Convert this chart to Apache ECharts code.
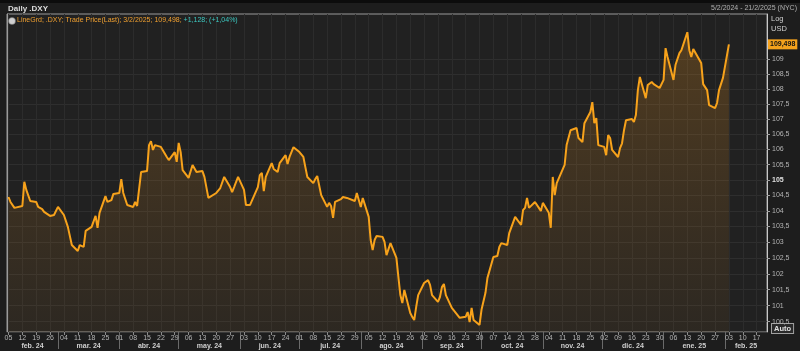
<!DOCTYPE html>
<html><head><meta charset="utf-8">
<script src="https://cdn.jsdelivr.net/npm/echarts@6/dist/echarts.min.js"></script>
<style>html,body{margin:0;padding:0;background:#1d1d1d;}#c{width:800px;height:351px;}</style>
</head><body><div id="c"></div>
<script>
const dates = [
'2024-02-05','2024-02-06','2024-02-08','2024-02-09','2024-02-12','2024-02-13','2024-02-14','2024-02-16','2024-02-19','2024-02-20','2024-02-22','2024-02-23','2024-02-26','2024-02-28',
'2024-03-01','2024-03-04','2024-03-05','2024-03-06','2024-03-08','2024-03-11','2024-03-12','2024-03-13','2024-03-14','2024-03-15','2024-03-18','2024-03-20','2024-03-21','2024-03-22','2024-03-25','2024-03-26','2024-03-28','2024-03-29',
'2024-04-01','2024-04-02','2024-04-03','2024-04-05','2024-04-08','2024-04-09','2024-04-10','2024-04-11','2024-04-12','2024-04-15','2024-04-16','2024-04-17','2024-04-18','2024-04-19','2024-04-22','2024-04-23','2024-04-25','2024-04-26','2024-04-29','2024-04-30',
'2024-05-01','2024-05-02','2024-05-03','2024-05-06','2024-05-07','2024-05-08','2024-05-09','2024-05-10','2024-05-13','2024-05-14','2024-05-16','2024-05-17','2024-05-20','2024-05-22','2024-05-24','2024-05-27','2024-05-28','2024-05-29','2024-05-31',
'2024-06-03','2024-06-04','2024-06-05','2024-06-06','2024-06-07','2024-06-10','2024-06-11','2024-06-12','2024-06-13','2024-06-14','2024-06-17','2024-06-18','2024-06-20','2024-06-21','2024-06-24','2024-06-25','2024-06-26','2024-06-28',
'2024-07-01','2024-07-02','2024-07-03','2024-07-04','2024-07-05','2024-07-08','2024-07-09','2024-07-10','2024-07-12','2024-07-15','2024-07-16','2024-07-17','2024-07-18','2024-07-19','2024-07-22','2024-07-23','2024-07-25','2024-07-29','2024-07-30','2024-07-31',
'2024-08-01','2024-08-02','2024-08-05','2024-08-06','2024-08-07','2024-08-08','2024-08-09','2024-08-12','2024-08-13','2024-08-14','2024-08-15','2024-08-16','2024-08-19','2024-08-20','2024-08-21','2024-08-22','2024-08-23','2024-08-26','2024-08-27','2024-08-28','2024-08-29','2024-08-30',
'2024-09-02','2024-09-04','2024-09-05','2024-09-06','2024-09-09','2024-09-10','2024-09-11','2024-09-12','2024-09-13','2024-09-16','2024-09-17','2024-09-20','2024-09-23','2024-09-24','2024-09-25','2024-09-26','2024-09-27','2024-09-30',
'2024-10-01','2024-10-03','2024-10-04','2024-10-07','2024-10-09','2024-10-10','2024-10-11','2024-10-14','2024-10-15','2024-10-16','2024-10-18','2024-10-21','2024-10-22','2024-10-23','2024-10-24','2024-10-25','2024-10-28','2024-10-29','2024-10-30','2024-10-31',
'2024-11-01','2024-11-04','2024-11-05','2024-11-06','2024-11-07','2024-11-08','2024-11-12','2024-11-13','2024-11-15','2024-11-18','2024-11-19','2024-11-21','2024-11-22','2024-11-25','2024-11-26','2024-11-27','2024-11-28','2024-11-29',
'2024-12-02','2024-12-03','2024-12-04','2024-12-05','2024-12-06','2024-12-09','2024-12-10','2024-12-11','2024-12-12','2024-12-13','2024-12-16','2024-12-17','2024-12-18','2024-12-19','2024-12-20','2024-12-23','2024-12-24','2024-12-26','2024-12-27','2024-12-30',
'2025-01-01','2025-01-02','2025-01-03','2025-01-06','2025-01-07','2025-01-09','2025-01-10','2025-01-13','2025-01-14','2025-01-15','2025-01-16','2025-01-17','2025-01-20','2025-01-21','2025-01-22','2025-01-23','2025-01-24','2025-01-27','2025-01-28','2025-01-29','2025-01-30','2025-01-31',
'2025-02-03'
];
const values = [
104.45,104.29,104.10,104.16,104.16,104.94,104.68,104.32,104.29,104.13,104.06,103.97,103.84,103.87,
104.13,103.87,103.81,103.49,102.91,102.72,102.91,102.97,102.85,103.36,103.49,103.84,103.46,103.94,104.48,104.29,104.35,104.55,
104.58,105.03,104.58,104.19,104.13,104.29,104.16,104.19,105.26,105.29,106.14,106.27,105.98,106.14,106.08,106.04,105.75,105.65,105.91,105.59,
106.21,105.91,105.32,105.07,105.10,105.49,105.55,105.26,105.29,105.10,104.42,104.45,104.58,104.74,105.10,104.77,104.61,104.77,105.10,
104.68,104.19,104.13,104.19,104.13,104.77,105.16,105.23,104.64,105.10,105.55,105.36,105.26,105.55,105.81,105.52,105.75,106.07,
105.91,105.88,105.75,105.42,105.10,104.90,105.03,105.13,104.51,104.13,104.26,104.16,103.78,104.29,104.38,104.45,104.42,104.32,104.58,104.58,
104.13,104.42,103.81,103.07,102.75,103.07,103.20,103.17,103.01,102.59,102.59,102.97,102.50,101.90,101.33,101.08,101.49,100.77,100.65,100.55,100.96,101.33,
101.71,101.80,101.65,101.33,101.12,101.27,101.58,101.68,101.33,100.93,100.90,100.62,100.65,100.80,100.49,100.93,100.55,100.40,
100.87,101.40,101.87,102.53,102.56,102.85,102.97,102.91,103.29,103.33,103.81,103.55,104.03,104.10,104.42,104.10,104.29,104.32,104.10,104.00,
104.26,103.94,103.46,105.10,104.51,104.90,105.49,106.14,106.63,106.70,106.37,106.24,106.86,107.23,107.56,106.86,107.03,106.14,
106.08,105.81,106.47,106.37,105.98,105.75,106.04,106.20,106.63,106.96,107.00,106.90,107.13,107.96,108.40,107.69,108.13,108.23,108.16,108.03,
108.30,109.37,109.07,108.30,108.80,109.20,109.30,109.91,109.30,109.07,109.34,109.30,108.87,108.16,108.20,107.96,107.46,107.36,107.53,107.96,107.90,108.37,
109.498
];
const yTicks = [100.5,101,101.5,102,102.5,103,103.5,104,104.5,105,105.5,106,106.5,107,107.5,108,108.5,109];
const monthNames = ['feb. 24','mar. 24','abr. 24','may. 24','jun. 24','jul. 24','ago. 24','sep. 24','oct. 24','nov. 24','dic. 24','ene. 25','feb. 25'];
const firstMonday = '2024-02-05';
const yMin = 100.18, yMax = 110.53;
const lastLabel = '109,498';
const titleText = 'Daily .DXY';
const rangeText = '5/2/2024 - 21/2/2025 (NYC)';
const legendMain = 'LineGrd; .DXY; Trade Price(Last); 3/2/2025; 109,498;';
const legendChange = ' +1,128; (+1,04%)';

function ts(s){const p=s.split('-').map(Number);return new Date(p[0],p[1]-1,p[2]).getTime();}
const xMin = new Date(2024,1,4,6).getTime();
const xMax = new Date(2025,1,22,6).getTime();

const mondays=[];
{const d=new Date(ts(firstMonday));while(d.getTime()<=xMax){mondays.push(d.getTime());d.setDate(d.getDate()+7);}}
const monthStarts=[], monthMids=[];
for(let i=0;i<monthNames.length;i++){
  const s=new Date(2024,1+i,1).getTime(), e=new Date(2024,2+i,1).getTime();
  if(i>0) monthStarts.push(s);
  monthMids.push((Math.max(s,xMin)+Math.min(e,xMax))/2);
}
const logTicks = yTicks.map(v=>Math.log(v));
const seriesData = dates.map((d,i)=>[ts(d), Math.log(values[i])]);
const FONT = 'Liberation Sans';

const chart = echarts.init(document.getElementById('c'));
chart.setOption({
  backgroundColor:'#1d1d1d',
  animation:false,
  textStyle:{fontFamily:FONT},
  grid:{left:7,right:33,top:14,bottom:19,show:true,backgroundColor:'#212121',borderColor:'#9a9a9a',borderWidth:1},
  xAxis:[{
    type:'value',min:xMin,max:xMax,position:'bottom',
    axisLine:{show:true,lineStyle:{color:'#3a3a3a'}},
    axisTick:{show:true,customValues:mondays,length:3,lineStyle:{color:'#8a8a8a'}},
    axisLabel:{customValues:mondays,margin:3,fontSize:7,color:'#b4b4b4',fontFamily:FONT,
      formatter:v=>{const d=new Date(v).getDate();return (d<10?'0':'')+d;}},
    splitLine:{show:true,lineStyle:{color:'#2c2c2c',width:1}}
  },{
    type:'value',min:xMin,max:xMax,position:'bottom',
    axisLine:{show:false},
    axisTick:{show:true,customValues:monthStarts,length:17,lineStyle:{color:'#6a6a6a'}},
    axisLabel:{customValues:monthMids,margin:11,fontSize:7,fontWeight:'bold',color:'#cfcfcf',fontFamily:FONT,
      formatter:v=>{let b=0,bd=Infinity;monthMids.forEach((m,i)=>{const dd=Math.abs(m-v);if(dd<bd){bd=dd;b=i;}});return monthNames[b];}},
    splitLine:{show:false}
  }],
  yAxis:[{
    type:'value',position:'right',min:Math.log(yMin),max:Math.log(yMax),
    axisLine:{show:true,lineStyle:{color:'#c8c8c8'}},
    axisTick:{show:true,customValues:logTicks,length:3,lineStyle:{color:'#a0a0a0'}},
    axisLabel:{customValues:logTicks,margin:5,fontSize:7,color:'#b4b4b4',fontFamily:FONT,
      formatter:v=>{const t=Math.round(Math.exp(v)*2)/2;const s=String(t).replace('.',',');return t===105?'{b|'+s+'}':s;},
      rich:{b:{fontWeight:'bold',fontSize:7,color:'#e0e0e0',fontFamily:FONT}}},
    splitLine:{show:true,lineStyle:{color:'#2e2e2e'}}
  },{
    type:'value',position:'left',min:Math.log(yMin),max:Math.log(yMax),
    axisLine:{show:true,lineStyle:{color:'#9a9a9a'}},axisTick:{show:false},axisLabel:{show:false},splitLine:{show:false}
  }],
  series:[{
    type:'line',data:seriesData,xAxisIndex:0,yAxisIndex:0,showSymbol:false,symbol:'none',clip:false,
    lineStyle:{color:'#f7a21b',width:2},
    itemStyle:{color:'#f7a21b'},
    areaStyle:{color:new echarts.graphic.LinearGradient(0,0,0,1,[{offset:0,color:'rgba(240,150,30,0.34)'},{offset:1,color:'rgba(200,130,40,0.10)'}])},
    markLine:{silent:true,symbol:'none',precision:8,lineStyle:{width:0,color:'rgba(0,0,0,0)'},
      data:[{yAxis:Math.log(values[values.length-1])}],
      label:{show:true,position:'end',distance:1,formatter:lastLabel,backgroundColor:'#f5a21c',color:'#111',
        fontSize:7,fontWeight:'bold',padding:[2,2,1,2],fontFamily:FONT}}
  }],
  graphic:[
    {type:'rect',left:0,top:0,shape:{width:800,height:3},style:{fill:'#0c0c0c'},silent:true},
    {type:'text',left:8,top:5,style:{text:titleText,fill:'#dcdcdc',font:'bold 8px '+FONT}},
    {type:'text',right:3,top:5,style:{text:rangeText,fill:'#b0b0b0',font:'7px '+FONT}},
    {type:'circle',shape:{cx:12,cy:21,r:3.5},style:{fill:'#cfcfcf',stroke:'#666',lineWidth:0.5},z:10},
    {type:'text',left:17,top:17,z:10,style:{rich:{o:{fill:'#f0a030',font:'7px '+FONT},c:{fill:'#3cc8c0',font:'7px '+FONT}},text:'{o|'+legendMain+'}{c|'+legendChange+'}'}},
    {type:'text',left:771,top:15,style:{text:'Log',fill:'#d0d0d0',font:'7.5px '+FONT}},
    {type:'text',left:771,top:25,style:{text:'USD',fill:'#d0d0d0',font:'7.5px '+FONT}},
    {type:'text',left:771,top:323,style:{text:'Auto',fill:'#e0e0e0',font:'bold 7.5px '+FONT,borderColor:'#a0a0a0',borderWidth:1,padding:[1,2,0,2],backgroundColor:'#2a2a2a'}}
  ]
});
</script></body></html>
